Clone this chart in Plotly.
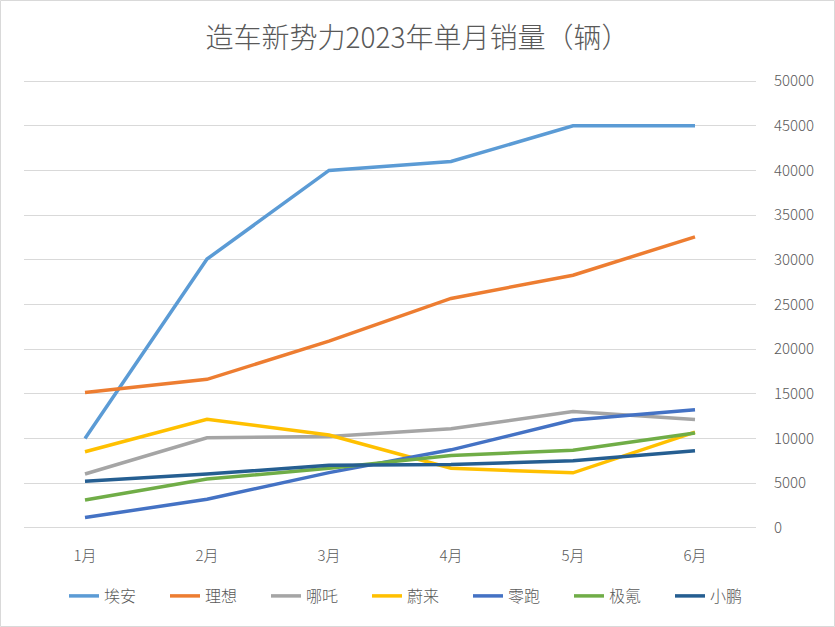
import plotly.graph_objects as go

months = ["1月", "2月", "3月", "4月", "5月", "6月"]
aion = [10000, 30086, 40016, 41012, 45003, 45013]
lixiang = [15141, 16620, 20893, 25681, 28277, 32575]
neta = [6016, 10073, 10212, 11080, 13029, 12132]
nio = [8506, 12157, 10378, 6658, 6155, 10707]
leapmotor = [1139, 3198, 6172, 8726, 12058, 13209]
zeekr = [3116, 5455, 6663, 8101, 8678, 10620]
xpeng = [5218, 6010, 7002, 7079, 7506, 8620]
y_ticks = [0, 5000, 10000, 15000, 20000, 25000, 30000, 35000, 40000, 45000, 50000]
y_tick_labels = ["0", "5000", "10000", "15000", "20000", "25000", "30000",
                 "35000", "40000", "45000", "50000"]

series = [
    ("埃安", aion, "#5B9BD5"),
    ("理想", lixiang, "#ED7D31"),
    ("哪吒", neta, "#A5A5A5"),
    ("蔚来", nio, "#FFC000"),
    ("零跑", leapmotor, "#4472C4"),
    ("极氪", zeekr, "#70AD47"),
    ("小鹏", xpeng, "#255E91"),
]

FONT = "Noto Sans CJK SC"
WEIGHT = 300
W, H = 835, 627
L, R, T, B = 24, 79, 79, 97
pw, ph = W - L - R, H - T - B
pad = 250  # range padding so the edge gridlines (0, 50000) are drawn

fig = go.Figure()
for name, vals, color in series:
    fig.add_trace(go.Scatter(x=months, y=vals, name=name, mode="lines",
                             line=dict(color=color, width=3.5)))

fig.update_layout(
    width=W, height=H,
    margin=dict(l=L, r=R, t=T, b=B),
    paper_bgcolor="white", plot_bgcolor="white",
    title=dict(text="造车新势力2023年单月销量（辆）", x=0.5, xanchor="center",
               y=1 - 38 / H, yanchor="middle",
               font=dict(family=FONT, size=28, color="#595959", weight=WEIGHT)),
    xaxis=dict(showgrid=False, showline=False, zeroline=False,
               ticks="outside", ticklen=12, tickcolor="rgba(0,0,0,0)",
               tickfont=dict(family=FONT, size=15, color="#595959", weight=WEIGHT),
               range=[-0.5, 5.5]),
    yaxis=dict(range=[-pad, 50000 + pad], tickvals=y_ticks,
               ticktext=y_tick_labels, side="right",
               ticks="outside", ticklen=14, tickcolor="rgba(0,0,0,0)",
               tickfont=dict(family=FONT, size=15, color="#595959", weight=WEIGHT),
               gridcolor="#D9D9D9", gridwidth=1, zeroline=False,
               showline=False, automargin=False),
    legend=dict(orientation="h", x=0.5, xanchor="center", xref="container",
                y=1 - 596 / H, yanchor="middle", yref="container",
                entrywidth=56, entrywidthmode="pixels",
                font=dict(family=FONT, size=16, color="#595959", weight=WEIGHT)),
    shapes=[dict(type="rect", xref="paper", yref="paper",
                 x0=(0.5 - L) / pw, x1=(W - 0.5 - L) / pw,
                 y0=-(B - 0.5) / ph, y1=1 + (T - 0.5) / ph,
                 line=dict(color="#D9D9D9", width=1))],
)

fig.write_html("out.html", config={"displayModeBar": False},
               post_script="document.body.style.margin='0';document.body.style.overflow='hidden';")
